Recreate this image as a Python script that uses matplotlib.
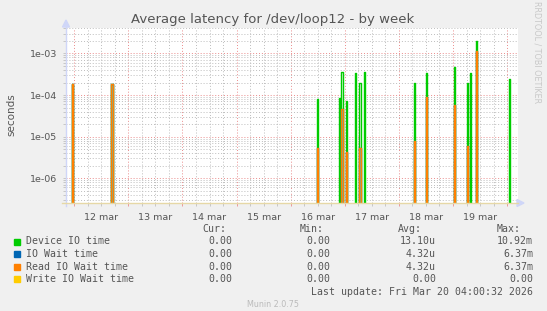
import numpy as np
import matplotlib
matplotlib.use("Agg")
import matplotlib.pyplot as plt
from matplotlib.patches import Rectangle, Polygon
from matplotlib.lines import Line2D
from matplotlib.ticker import FixedLocator, MultipleLocator, NullFormatter

W, H = 547, 311

# spikes: time in days after 12 mar 00:00, values in seconds (30 min averages)
spike_day = [-0.048, 0.691, 4.481, 4.898, 4.935, 5.028, 5.189, 5.268,
             5.360, 6.266, 6.506, 7.031, 7.259, 7.320, 7.412, 8.041]
device_io = [1.86e-4, 1.86e-4, 8.2e-5, 8.6e-5, 3.5e-4, 7.2e-5, 3.3e-4, 2.0e-4,
             3.5e-4, 2.0e-4, 3.3e-4, 4.6e-4, 2.0e-4, 3.3e-4, 1.96e-3, 2.4e-4]
read_wait = [1.86e-4, 1.86e-4, 5.2e-6, 0, 4.5e-5, 4.3e-6, 0, 5.2e-6,
             0, 7.9e-6, 8.8e-5, 5.9e-5, 6.0e-6, 0, 1.15e-3, 0]
io_wait = list(read_wait)
write_wait = [0] * len(spike_day)

day_labels = ["12 mar", "13 mar", "14 mar", "15 mar", "16 mar", "17 mar", "18 mar", "19 mar"]
ytick_vals = [1e-6, 1e-5, 1e-4, 1e-3]
ytick_labels = ["1e-06", "1e-05", "1e-04", "1e-03"]

legend_names = ["Device IO time", "IO Wait time", "Read IO Wait time", "Write IO Wait time"]
legend_colors = ["#00CC00", "#0066B3", "#FF8000", "#FFCC00"]
cur = ["0.00", "0.00", "0.00", "0.00"]
mins = ["0.00", "0.00", "0.00", "0.00"]
avg = ["13.10u", "4.32u", "4.32u", "0.00"]
mx = ["10.92m", "6.37m", "6.37m", "0.00"]


def fx(x):
    return x / W


def fy(y):
    return 1 - y / H


fig = plt.figure(figsize=(W / 100, H / 100), dpi=100, facecolor="#F0F0F0")
left, right, top, bottom = 66, 517.7, 27.5, 203
ax = fig.add_axes([fx(left), fy(bottom), (right - left) / W, (bottom - top) / H])
ax.set_facecolor("white")

# 30 minute samples, zero everywhere except spikes
t_idx = np.arange(-12, 400)
t = t_idx / 48.0
series = []
for vals in [device_io, io_wait, read_wait, write_wait]:
    s = np.zeros(len(t))
    for d, v in zip(spike_day, vals):
        s[int(round(d * 48)) + 12] = v
    series.append(s)

for s, c in zip(series, legend_colors):
    ax.step(t, s, where="post", color=c, lw=1.0)

ax.set_yscale("log", nonpositive="clip")
ax.set_ylim(2.54e-7, 4.2e-3)
ax.set_xlim(-0.153, 8.196)

ax.yaxis.set_major_locator(FixedLocator(ytick_vals))
ax.set_yticklabels(ytick_labels)
ax.yaxis.set_minor_locator(FixedLocator(
    [k * 10.0 ** e for e in range(-7, -2) for k in range(2, 10)]))
ax.yaxis.set_minor_formatter(NullFormatter())
ax.xaxis.set_major_locator(MultipleLocator(1))
ax.xaxis.set_minor_locator(MultipleLocator(0.25))
ax.set_xticklabels([])

ax.grid(which="minor", color="#BDBDBD", linestyle=(0, (1, 2)), lw=0.7)
ax.grid(which="major", color="#EA8C8C", linestyle=(0, (1, 2)), lw=0.7)
ax.set_axisbelow(True)
ax.tick_params(which="both", length=2, width=0.6, color="#C0C0C0",
               labelsize=6.8, labelcolor="#555555", pad=4)
ax.tick_params(axis="x", which="major", color="#EA8C8C")
for sp in ax.spines.values():
    sp.set_visible(False)

for i, lab in enumerate(day_labels):
    ax.text(i + 0.5, -0.085, lab, transform=ax.get_xaxis_transform(),
            ha="center", va="center", fontsize=6.8, color="#555555")

# axes with arrows
fig.add_artist(Line2D([fx(66), fx(66)], [fy(206), fy(24)], color="#CFD6F8", lw=1))
fig.add_artist(Line2D([fx(62), fx(518)], [fy(203), fy(203)], color="#E6D8A6", lw=1))
fig.add_artist(Polygon([[fx(62.5), fy(27)], [fx(69.5), fy(27)], [fx(66), fy(20)]],
                       closed=True, color="#CFD6F8"))
fig.add_artist(Polygon([[fx(517), fy(199.5)], [fx(517), fy(206.5)], [fx(524), fy(203)]],
                       closed=True, color="#CFD6F8"))

fig.text(fx(273), fy(19), "Average latency for /dev/loop12 - by week",
         ha="center", va="center", fontsize=9.5, color="#555555")
fig.text(fx(11), fy(115), "seconds", rotation=90, ha="center", va="center",
         fontsize=7.5, color="#555555")
fig.text(fx(537), fy(52), "RRDTOOL / TOBI OETIKER", rotation=270,
         ha="center", va="center", fontsize=5.8, color="#C8C8C8")

mono = dict(family="DejaVu Sans Mono", fontsize=7.1, color="#555555", va="center")
fig.text(fx(226), fy(228.6), "Cur:", ha="right", **mono)
fig.text(fx(324), fy(228.6), "Min:", ha="right", **mono)
fig.text(fx(422), fy(228.6), "Avg:", ha="right", **mono)
fig.text(fx(520.6), fy(228.6), "Max:", ha="right", **mono)
rows_y = [241.5, 254, 266.6, 279.2]
for y, name, c, a, b, d, e in zip(rows_y, legend_names, legend_colors, cur, mins, avg, mx):
    fig.add_artist(Rectangle((fx(14), fy(y + 3)), 6 / W, 6 / H, color=c))
    fig.text(fx(26), fy(y), name, ha="left", **mono)
    fig.text(fx(232), fy(y), a, ha="right", **mono)
    fig.text(fx(330), fy(y), b, ha="right", **mono)
    fig.text(fx(436), fy(y), d, ha="right", **mono)
    fig.text(fx(533), fy(y), e, ha="right", **mono)
fig.text(fx(533), fy(292), "Last update: Fri Mar 20 04:00:32 2026", ha="right", **mono)
fig.text(fx(273), fy(304.5), "Munin 2.0.75", ha="center", va="center",
         fontsize=5.8, color="#BBBBBB")

fig.savefig("out.png", dpi=100, facecolor=fig.get_facecolor())
